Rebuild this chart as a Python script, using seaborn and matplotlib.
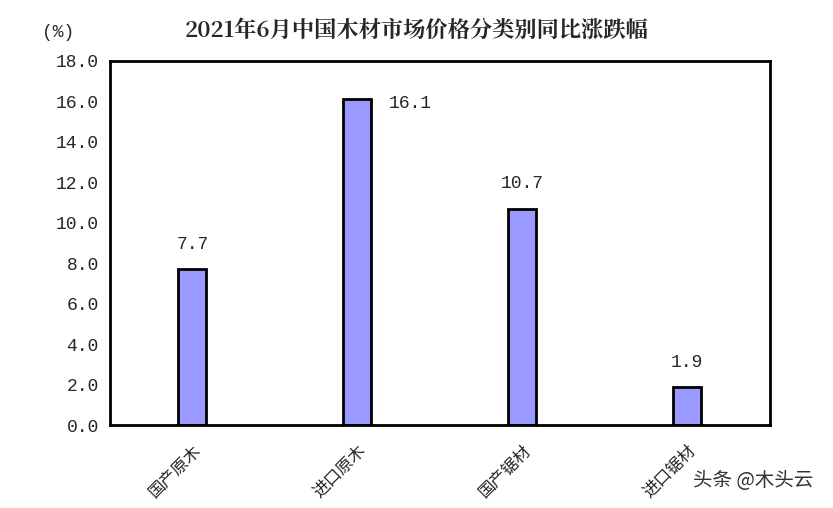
import pandas as pd
import seaborn as sns
import matplotlib.pyplot as plt
import matplotlib.ticker as ticker

# Chart data
categories = ['国产原木', '进口原木', '国产锯材', '进口锯材']
values = [7.7, 16.1, 10.7, 1.9]
y_ticks = [0, 2, 4, 6, 8, 10, 12, 14, 16, 18]

CJK = ['Noto Sans CJK SC', 'DejaVu Sans']
NUM = ['Liberation Mono', 'DejaVu Sans Mono']

sns.set_style('white')
plt.rcParams['font.family'] = CJK

df = pd.DataFrame({'category': categories, 'value': values})

fig = plt.figure(figsize=(8.33, 5.08), dpi=100)
ax = fig.add_axes([0.132, 0.163, 0.792, 0.717])

sns.barplot(data=df, x='category', y='value', color='#9999FF', saturation=1,
            width=0.17, edgecolor='black', linewidth=2, ax=ax)

ax.set_ylim(0, 18)
ax.set_xlim(-0.5, 3.5)
ax.set_yticks(y_ticks)
ax.set_yticklabels([f'{v:.1f}' for v in y_ticks], family=NUM, fontsize=13)
ax.tick_params(axis='y', direction='in', length=6, width=2, pad=8)

# Category labels, tick marks only between categories
ax.tick_params(axis='x', which='major', length=0, pad=12)
ax.set_xticks(range(len(categories)))
ax.set_xticklabels(categories, rotation=45, ha='right', rotation_mode='anchor', fontsize=12)
ax.xaxis.set_minor_locator(ticker.FixedLocator([0.5, 1.5, 2.5]))
ax.tick_params(axis='x', which='minor', direction='in', length=6, width=2)

for s in ax.spines.values():
    s.set_linewidth(2)
    s.set_color('black')

ax.set_xlabel('')
ax.set_ylabel('')

# Value labels
for i, v in enumerate(values):
    if i == 1:
        ax.text(i + 0.19, v - 0.2, f'{v:.1f}', ha='left', va='center', family=NUM, fontsize=13)
    else:
        ax.text(i, v + 0.8, f'{v:.1f}', ha='center', va='bottom', family=NUM, fontsize=13)

fig.text(0.5, 0.94, '2021年6月中国木材市场价格分类别同比涨跌幅', ha='center', va='center',
         fontsize=16, fontweight='bold', family=['Noto Serif CJK SC', 'Noto Sans CJK SC', 'DejaVu Sans'])
fig.text(0.07, 0.937, '(%)', ha='center', va='center', fontsize=13, family=NUM)
fig.text(0.904, 0.055, '头条 @木头云', ha='center', va='center', fontsize=14, color='#333333')

fig.savefig('out.png', dpi=100)
